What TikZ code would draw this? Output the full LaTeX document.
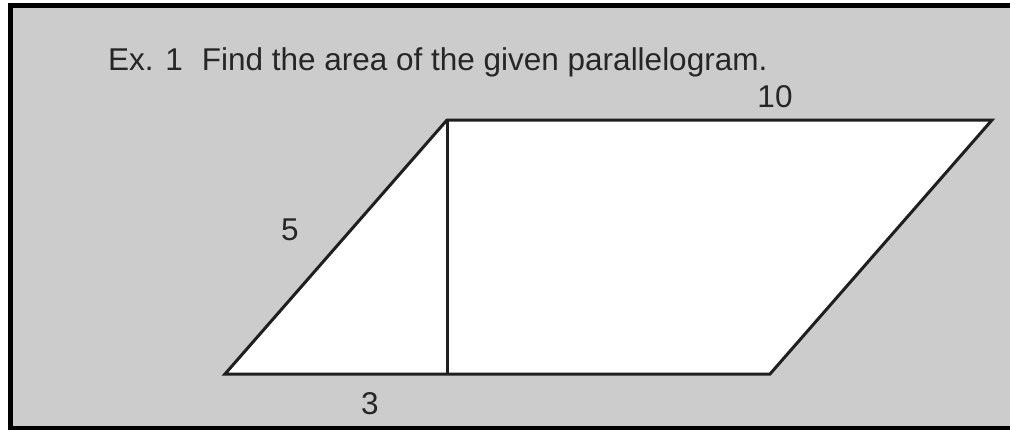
\documentclass[tikz,border=0pt]{standalone}
\usepackage{fontspec}
\setmainfont{Liberation Sans}
\begin{document}
\begin{tikzpicture}[x=1pt, y=-1pt,
    edge/.style={line width=3pt, draw=black!88, line join=miter},
    lbl/.style={font=\fontsize{31.5}{36}\selectfont, text=black!85, inner sep=0pt}]
    \useasboundingbox (0,0) rectangle (1010,429);
    %Rahmen
    \fill[white] (0,0) rectangle (1010,429);
    \fill[black!20] (10.5,5.8) rectangle (1010,428.5);
    \draw[line width=5pt] (1010,5.8) -- (10.5,5.8) -- (10.5,428.5) -- (1010,428.5);
    %Ecken
    \coordinate (A) at (225,374);
    \coordinate (B) at (770,374);
    \coordinate (C) at (992,120);
    \coordinate (D) at (447,120);
    \coordinate (H) at (447,374);
    %Parallelogramm
    \filldraw[edge, fill=white] (A) -- (B) -- (C) -- (D) -- cycle;
    \draw[edge] (D) -- (H);
    %Beschriftung
    \node[lbl, anchor=base west] (title) at (108,70) {Ex. 1\hspace{0.6em}Find the area of the given parallelogram.};
    \node[lbl] (top) at (775,97) {10};
    \node[lbl] (side) at (290,230) {5};
    \node[lbl] (base) at (370,404) {3};
\end{tikzpicture}
\end{document}
